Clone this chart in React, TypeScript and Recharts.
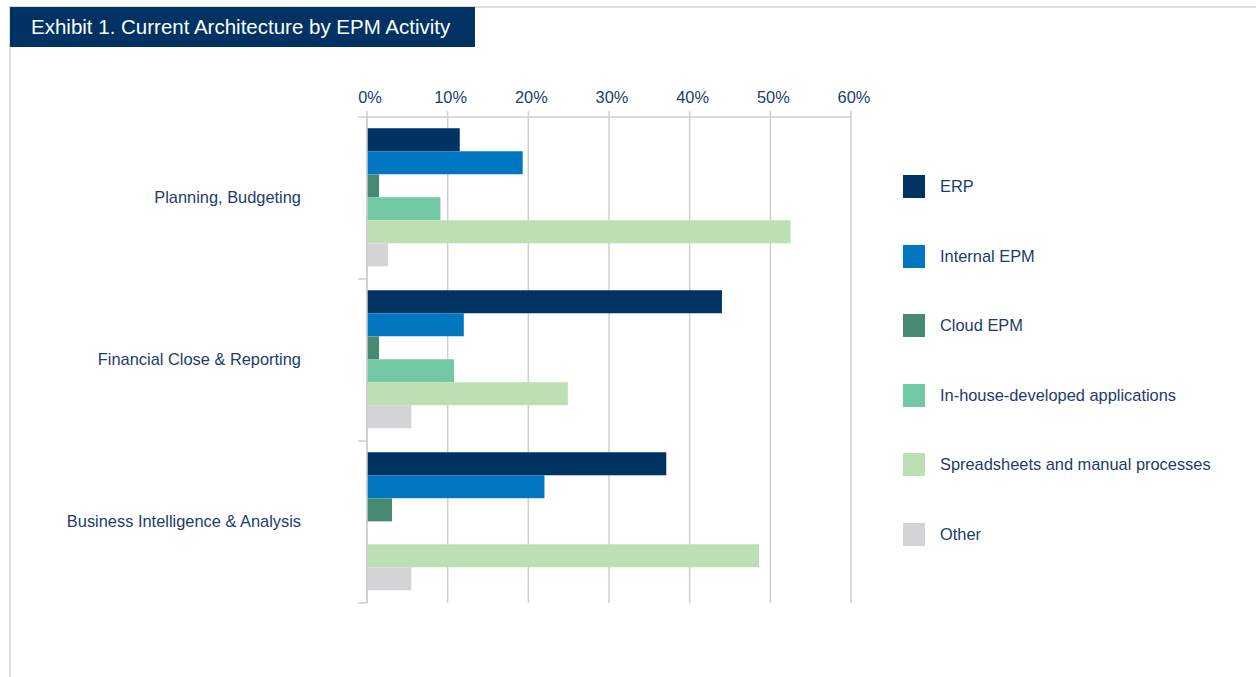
import React from 'react';
import { BarChart, Bar, XAxis, YAxis, CartesianGrid } from 'recharts';

const categories = ['Planning, Budgeting', 'Financial Close & Reporting', 'Business Intelligence & Analysis'];
const erp = [11.5, 44.0, 37.1];
const internalEpm = [19.3, 12.0, 22.0];
const cloudEpm = [1.5, 1.5, 3.1];
const inHouse = [9.1, 10.8, 0];
const spreadsheets = [52.5, 24.9, 48.6];
const other = [2.6, 5.5, 5.5];
const xTicks = [0, 10, 20, 30, 40, 50, 60];

const SERIES = [
  { key: 'erp', name: 'ERP', values: erp, color: '#003263' },
  { key: 'internal', name: 'Internal EPM', values: internalEpm, color: '#0077c0' },
  { key: 'cloud', name: 'Cloud EPM', values: cloudEpm, color: '#478a72' },
  { key: 'inhouse', name: 'In-house-developed applications', values: inHouse, color: '#72c7a5' },
  { key: 'sheets', name: 'Spreadsheets and manual processes', values: spreadsheets, color: '#bddfb4' },
  { key: 'other', name: 'Other', values: other, color: '#d4d3d6' },
];

const data = categories.map((name, i) => {
  const row: Record<string, string | number> = { name };
  SERIES.forEach(s => { row[s.key] = s.values[i]; });
  return row;
});

const TEXT = '#1d3c6b';
const GRID = '#cfcfcf';
const FONT = '"Liberation Sans", Arial, sans-serif';
const FS = 16.4;

const W = 1256;
const H = 677;
const PLOT_TOP = 117;
const PLOT_BOTTOM = 603;
const PLOT_LEFT = 367;
const PLOT_RIGHT = 851;
const X_AXIS_H = 30;
const Y_AXIS_W = 300;
const TICK_MARGIN = 66;
const BAND = (PLOT_BOTTOM - PLOT_TOP) / categories.length;

// category label + boundary tick marks (the original puts ticks between groups)
const CategoryTick = (props: any) => {
  const { x, y, payload, index } = props;
  const axisX = x + TICK_MARGIN;
  const top = y - BAND / 2;
  const bottom = y + BAND / 2;
  return (
    <g>
      <line x1={axisX - 9} x2={axisX} y1={top} y2={top} stroke={GRID} strokeWidth={1.5} />
      {index === categories.length - 1 && (
        <line x1={axisX - 9} x2={axisX} y1={bottom} y2={bottom} stroke={GRID} strokeWidth={1.5} />
      )}
      <text x={x} y={y} dy={5} textAnchor="end" fill={TEXT} fontSize={FS} fontFamily={FONT}>
        {payload.value}
      </text>
    </g>
  );
};

const PercentTick = (props: any) => {
  const { x, y, payload } = props;
  return (
    <text x={x + 3} y={y} textAnchor="middle" fill={TEXT} fontSize={FS} fontFamily={FONT}>
      {`${payload.value}%`}
    </text>
  );
};

const LegendList = () => (
  <div style={{ position: 'absolute', left: 903, top: 152, display: 'flex', flexDirection: 'column' }}>
    {SERIES.map(s => (
      <div key={s.key} style={{ display: 'flex', alignItems: 'center', height: 69.5 }}>
        <div style={{ width: 22, height: 23, background: s.color, marginRight: 15, flexShrink: 0 }} />
        <span style={{ color: TEXT, fontSize: FS, fontFamily: FONT, whiteSpace: 'nowrap' }}>{s.name}</span>
      </div>
    ))}
  </div>
);

export default function App() {
  return (
    <div style={{ position: 'absolute', left: 0, top: 0, width: W, height: H, background: '#fff', overflow: 'hidden' }}>
      <div style={{ position: 'absolute', left: 10, top: 6, width: W - 10, height: 2, background: '#dcdcdc' }} />
      <div style={{ position: 'absolute', left: 9, top: 6, width: 2, height: H - 6, background: '#dcdcdc' }} />
      <div
        style={{
          position: 'absolute', left: 10, top: 7, width: 465, height: 40, background: '#003263',
          color: '#fff', fontFamily: FONT, fontSize: 20.5, lineHeight: '40px', paddingLeft: 21, boxSizing: 'border-box',
          whiteSpace: 'nowrap',
        }}
      >
        Exhibit 1. Current Architecture by EPM Activity
      </div>
      <div style={{ position: 'absolute', left: 0, top: 0 }}>
        <BarChart
          width={W}
          height={H}
          data={data}
          layout="vertical"
          barGap={0}
          barCategoryGap="7%"
          margin={{ top: PLOT_TOP - X_AXIS_H, bottom: H - PLOT_BOTTOM, left: PLOT_LEFT - Y_AXIS_W, right: W - PLOT_RIGHT }}
        >
          <CartesianGrid horizontal={false} stroke={GRID} strokeWidth={1.5} />
          <XAxis
            type="number"
            orientation="top"
            domain={[0, 60]}
            ticks={xTicks}
            height={X_AXIS_H}
            tick={<PercentTick />}
            axisLine={{ stroke: GRID, strokeWidth: 1.5 }}
            tickLine={{ stroke: GRID, strokeWidth: 1.5 }}
            tickSize={6}
            tickMargin={8}
            interval={0}
          />
          <YAxis
            type="category"
            dataKey="name"
            width={Y_AXIS_W}
            tickSize={0}
            tickMargin={TICK_MARGIN}
            tickLine={false}
            axisLine={{ stroke: GRID, strokeWidth: 1.5 }}
            tick={<CategoryTick />}
            interval={0}
          />
          {SERIES.map(s => (
            <Bar key={s.key} dataKey={s.key} name={s.name} fill={s.color} isAnimationActive={false} />
          ))}
        </BarChart>
      </div>
      <LegendList />
    </div>
  );
}
